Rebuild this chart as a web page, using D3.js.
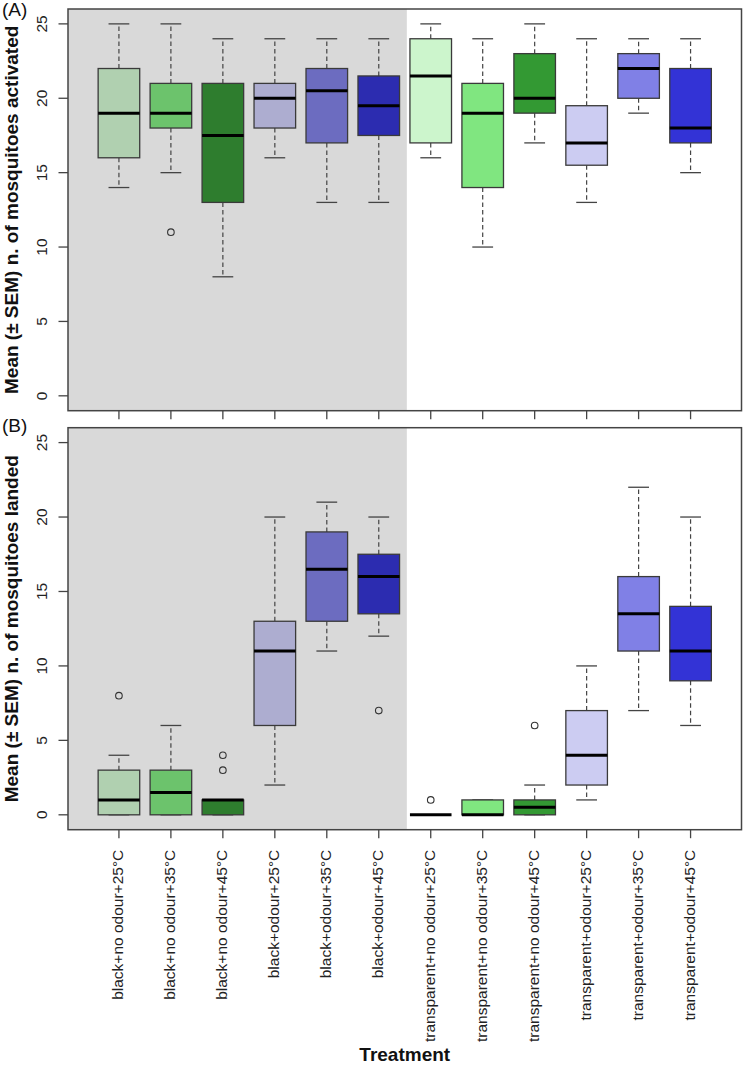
<!DOCTYPE html>
<html>
<head>
<meta charset="utf-8">
<script src="https://cdn.jsdelivr.net/npm/d3@7"></script>
<style>
  html, body { margin: 0; padding: 0; background: #ffffff; }
  svg { display: block; }
  text { font-family: Arial, "Liberation Sans", Helvetica, sans-serif; }
</style>
</head>
<body>
<svg id="chart" width="743" height="1065"></svg>
<script>
// ---------- data ----------
const categories = [
  "black+no odour+25°C", "black+no odour+35°C", "black+no odour+45°C",
  "black+odour+25°C", "black+odour+35°C", "black+odour+45°C",
  "transparent+no odour+25°C", "transparent+no odour+35°C", "transparent+no odour+45°C",
  "transparent+odour+25°C", "transparent+odour+35°C", "transparent+odour+45°C"
];
const fillColors = [
  "#b0d0b0", "#6cc36c", "#2e7d2e",
  "#adadd0", "#6c6cc0", "#2c2cb0",
  "#ccf5cc", "#80e680", "#339933",
  "#ccccf2", "#8080e6", "#3333d6"
];
// Panel A: mosquitoes activated  [lowerWhisker, Q1, median, Q3, upperWhisker]
const activatedLow    = [14, 15,  8,   16, 13,   13,   16, 10, 17, 13,   19, 15];
const activatedQ1     = [16, 18, 13,   18, 17,   17.5, 17, 14, 19, 15.5, 20, 17];
const activatedMedian = [19, 19, 17.5, 20, 20.5, 19.5, 21.5, 19, 20, 17, 22, 18];
const activatedQ3     = [22, 21, 21,   21, 22,   21.5, 24, 21, 23, 19.5, 23, 22];
const activatedHigh   = [25, 25, 24,   24, 24,   24,   25, 24, 25, 24,   24, 24];
const activatedOutliers = [[], [11], [], [], [], [], [], [], [], [], [], []];

// Panel B: mosquitoes landed
const landedLow    = [0, 0, 0, 2,  11,   12,   0, 0, 0,   1, 7,    6];
const landedQ1     = [0, 0, 0, 6,  13,   13.5, 0, 0, 0,   2, 11,   9];
const landedMedian = [1, 1.5, 1, 11, 16.5, 16, 0, 0, 0.5, 4, 13.5, 11];
const landedQ3     = [3, 3, 1, 13, 19,   17.5, 0, 1, 1,   7, 16,   14];
const landedHigh   = [4, 6, 1, 20, 21,   20,   0, 1, 2,   10, 22,  20];
const landedOutliers = [[8], [], [3, 4], [], [], [7], [1], [], [6], [], [], []];

const yTicks = [0, 5, 10, 15, 20, 25];
const panelLetters = ["(A)", "(B)"];
const yTitles = ["Mean (± SEM) n. of mosquitoes activated", "Mean (± SEM) n. of mosquitoes landed"];
const xTitle = "Treatment";
const shadedUpTo = 6.54; // grey background covers the "black" treatments

// ---------- layout ----------
const svg = d3.select("#chart");
const plotLeft = 68, plotRight = 741.5;
const panels = [
  { top: 9,     bottom: 410.7, letterY: 15.5, showLabels: false,
    low: activatedLow, q1: activatedQ1, med: activatedMedian, q3: activatedQ3, high: activatedHigh, out: activatedOutliers },
  { top: 427.7, bottom: 829.7, letterY: 432, showLabels: true,
    low: landedLow, q1: landedQ1, med: landedMedian, q3: landedQ3, high: landedHigh, out: landedOutliers }
];

const x = d3.scaleLinear().domain([0.02, 12.98]).range([plotLeft, plotRight]);
const boxHalf = (x(1.4) - x(1));        // boxwex 0.8
const stapleHalf = (x(1.2) - x(1));     // staple 0.4
const lineCol = "#444444";

panels.forEach((p, pi) => {
  const y = d3.scaleLinear().domain([-1, 26]).range([p.bottom, p.top]);
  const g = svg.append("g");

  // grey background for black treatments
  g.append("rect")
    .attr("x", plotLeft).attr("y", p.top)
    .attr("width", x(shadedUpTo) - plotLeft)
    .attr("height", p.bottom - p.top)
    .attr("fill", "#d9d9d9");

  // boxes
  categories.forEach((c, i) => {
    const cx = x(i + 1);
    const bg = g.append("g");
    // whiskers (dashed)
    bg.append("line").attr("x1", cx).attr("x2", cx)
      .attr("y1", y(p.q3[i])).attr("y2", y(p.high[i]))
      .attr("stroke", lineCol).attr("stroke-width", 1.2).attr("stroke-dasharray", "4.5,3");
    bg.append("line").attr("x1", cx).attr("x2", cx)
      .attr("y1", y(p.q1[i])).attr("y2", y(p.low[i]))
      .attr("stroke", lineCol).attr("stroke-width", 1.2).attr("stroke-dasharray", "4.5,3");
    // staples
    [p.high[i], p.low[i]].forEach(v => {
      bg.append("line").attr("x1", cx - stapleHalf).attr("x2", cx + stapleHalf)
        .attr("y1", y(v)).attr("y2", y(v))
        .attr("stroke", lineCol).attr("stroke-width", 1.3);
    });
    // box
    bg.append("rect")
      .attr("x", cx - boxHalf).attr("y", y(p.q3[i]))
      .attr("width", 2 * boxHalf).attr("height", Math.max(0, y(p.q1[i]) - y(p.q3[i])))
      .attr("fill", fillColors[i]).attr("stroke", "#3a3a3a").attr("stroke-width", 1.3);
    // median
    bg.append("line").attr("x1", cx - boxHalf).attr("x2", cx + boxHalf)
      .attr("y1", y(p.med[i])).attr("y2", y(p.med[i]))
      .attr("stroke", "#000000").attr("stroke-width", 3);
    // outliers
    p.out[i].forEach(v => {
      bg.append("circle").attr("cx", cx).attr("cy", y(v)).attr("r", 3.3)
        .attr("fill", "none").attr("stroke", "#333333").attr("stroke-width", 1.1);
    });
  });

  // frame
  g.append("rect")
    .attr("x", plotLeft).attr("y", p.top)
    .attr("width", plotRight - plotLeft).attr("height", p.bottom - p.top)
    .attr("fill", "none").attr("stroke", lineCol).attr("stroke-width", 1.5);

  // y axis ticks
  yTicks.forEach(t => {
    g.append("line").attr("x1", plotLeft - 9.5).attr("x2", plotLeft)
      .attr("y1", y(t)).attr("y2", y(t))
      .attr("stroke", lineCol).attr("stroke-width", 1.3);
    g.append("text")
      .attr("transform", `translate(46.5,${y(t)}) rotate(-90)`)
      .attr("text-anchor", "middle")
      .attr("font-size", 15.5).attr("fill", "#222")
      .text(t);
  });

  // x axis ticks
  categories.forEach((c, i) => {
    const cx = x(i + 1);
    g.append("line").attr("x1", cx).attr("x2", cx)
      .attr("y1", p.bottom).attr("y2", p.bottom + 8.5)
      .attr("stroke", lineCol).attr("stroke-width", 1.3);
    if (p.showLabels) {
      g.append("text")
        .attr("transform", `translate(${cx + 4.5},${p.bottom + 20}) rotate(-90)`)
        .attr("text-anchor", "end")
        .attr("font-size", 15.5).attr("fill", "#222")
        .text(c);
    }
  });

  // y title
  g.append("text")
    .attr("transform", `translate(18,${(p.top + p.bottom) / 2}) rotate(-90)`)
    .attr("text-anchor", "middle")
    .attr("font-size", 19).attr("font-weight", "bold").attr("fill", "#111")
    .text(yTitles[pi]);

  // panel letter
  g.append("text")
    .attr("x", 2).attr("y", p.letterY)
    .attr("font-size", 19).attr("fill", "#111")
    .text(panelLetters[pi]);
});

// x title
svg.append("text")
  .attr("x", (plotLeft + plotRight) / 2).attr("y", 1061)
  .attr("text-anchor", "middle")
  .attr("font-size", 19).attr("font-weight", "bold").attr("fill", "#111")
  .text(xTitle);
</script>
</body>
</html>
